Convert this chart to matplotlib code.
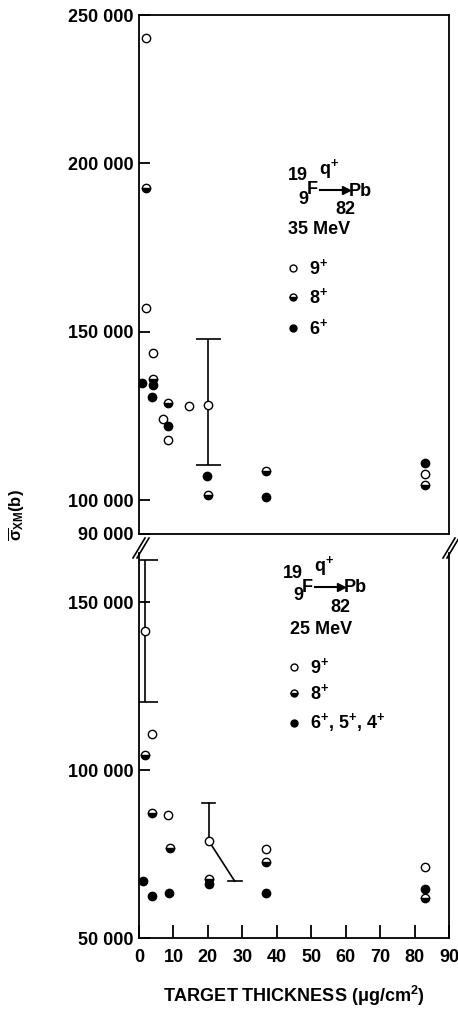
import numpy as np
import matplotlib
matplotlib.use('Agg')
import matplotlib.pyplot as plt
from matplotlib.lines import Line2D

plt.rcParams['font.family'] = ['Liberation Sans', 'DejaVu Sans']
plt.rcParams['font.weight'] = 'bold'
plt.rcParams['axes.labelweight'] = 'bold'
plt.rcParams['mathtext.fontset'] = 'custom'
plt.rcParams['mathtext.rm'] = 'Liberation Sans:bold'
plt.rcParams['mathtext.bf'] = 'Liberation Sans:bold'
plt.rcParams['mathtext.it'] = 'Liberation Sans:bold'

# ---- 35 MeV (upper panel) ----
x35_q9 = [2, 2, 4, 7, 8.5, 14.5, 20, 83]
y35_q9 = [237000, 157000, 143800, 124200, 117800, 127900, 128200, 107900]
x35_q8 = [2, 4, 8.5, 20, 37, 83]
y35_q8 = [192600, 136000, 128900, 101500, 108600, 104500]
x35_q6 = [0.8, 4, 3.8, 8.3, 19.6, 37, 83]
y35_q6 = [134800, 134200, 130700, 122000, 107100, 100900, 111100]
err35_x = 20
err35_y = 128200
err35_lo = 110400
err35_hi = 147700

# ---- 25 MeV (lower panel) ----
x25_q9 = [1.7, 3.9, 8.5, 20.2, 37, 83]
y25_q9 = [141500, 110700, 86500, 79000, 76500, 71000]
x25_q8 = [1.7, 3.9, 9, 20.2, 37, 83]
y25_q8 = [104500, 87100, 76900, 67700, 72500, 62000]
x25_q6 = [1.3, 3.9, 8.8, 20.2, 37, 83]
y25_q6 = [66900, 62400, 63400, 66000, 63500, 64500]
err25a_x, err25a_y, err25a_lo, err25a_hi = 1.7, 141500, 120100, 162400
err25b_x, err25b_y, err25b_hi = 20.2, 79000, 90200
err25b_tail_x, err25b_tail_y = 27.8, 66900   # lower bar drawn slanted in the original

xticks = [0, 10, 20, 30, 40, 50, 60, 70, 80, 90]
top_yticks = [90000, 100000, 150000, 200000, 243900]   # frame top is labelled 250 000 in the original
top_ylabels = ['90 000', '100 000', '150 000', '200 000', '250 000']
bot_yticks = [50000, 100000, 150000]
bot_ylabels = ['50 000', '100 000', '150 000']

W, H = 458, 1010
def fx(x): return x / W
def fy(y): return 1 - y / H

fig = plt.figure(figsize=(W / 100, H / 100), dpi=100)
ax1 = fig.add_axes([fx(139), fy(534), fx(449) - fx(139), fy(15) - fy(534)])
ax2 = fig.add_axes([fx(139), fy(938), fx(449) - fx(139), fy(553) - fy(938)])

ms = 6
def markers(ax, xq9, yq9, xq8, yq8, xq6, yq6):
    ax.plot(xq9, yq9, 'o', ls='none', ms=ms, mfc='white', mec='black', mew=1, zorder=5)
    ax.plot(xq8, yq8, 'o', ls='none', ms=ms, fillstyle='bottom', mfc='black',
            mfcalt='white', mec='black', mew=1, zorder=5)
    ax.plot(xq6, yq6, 'o', ls='none', ms=ms, mfc='black', mec='black', mew=1, zorder=5)

ekw = dict(color='black', lw=1.2, zorder=3)
cap35 = 2.0    # half cap width, x units
markers(ax1, x35_q9, y35_q9, x35_q8, y35_q8, x35_q6, y35_q6)
ax1.errorbar([err35_x], [err35_y], yerr=[[err35_y - err35_lo], [err35_hi - err35_y]],
             fmt='none', ecolor='black', elinewidth=1.2, capsize=9, capthick=1.2, zorder=3)

markers(ax2, x25_q9, y25_q9, x25_q8, y25_q8, x25_q6, y25_q6)
ax2.errorbar([err25a_x], [err25a_y], yerr=[[err25a_y - err25a_lo], [err25a_hi - err25a_y]],
             fmt='none', ecolor='black', elinewidth=1.2, capsize=9, capthick=1.2, zorder=3)
# upper half of the bar at 20 ug/cm2, lower half drawn as a slanted line
ax2.plot([err25b_x, err25b_x], [err25b_y, err25b_hi], **ekw)
ax2.plot([err25b_x - cap35, err25b_x + cap35], [err25b_hi, err25b_hi], **ekw)
ax2.plot([err25b_x, err25b_tail_x], [err25b_y, err25b_tail_y], **ekw)
ax2.plot([err25b_tail_x - 2.1, err25b_tail_x + 2.1], [err25b_tail_y, err25b_tail_y], **ekw)

for ax in (ax1, ax2):
    ax.set_xlim(0, 90)
    for s in ax.spines.values():
        s.set_linewidth(1.3)
    ax.tick_params(axis='y', direction='in', length=8, width=1.3, labelsize=13, pad=4,
                   right=False)
    ax.tick_params(axis='x', direction='in', length=9.5, width=1.3, labelsize=13, pad=8,
                   top=False)

ax1.set_ylim(90000, 243900)
ax1.set_yticks(top_yticks)
ax1.set_yticklabels(top_ylabels)
ax1.set_xticks([])

ax2.set_ylim(50000, 164600)
ax2.set_yticks(bot_yticks)
ax2.set_yticklabels(bot_ylabels)
ax2.set_xticks(xticks)
ax2.spines['top'].set_visible(False)
ax2.set_xlabel(r'TARGET THICKNESS ($\mu$g/cm$^{2}$)', fontsize=13, fontweight='bold',
               labelpad=13)

fig.text(fx(17), fy(515), r'$\overline{\sigma}_{\mathbf{XM}}$(b)', rotation=90,
         ha='center', va='center', fontsize=12)

# axis break marks
for x0 in (139, 449):
    for off in (0, 4):
        fig.add_artist(Line2D([fx(x0 - 6 + off), fx(x0 + 6 + off)],
                              [fy(558), fy(538)], color='black', lw=1.2))

# reaction labels and key
def reaction(x9, y9, energy, xe, ye, xm, ys, labels):
    fs = 13
    fig.text(fx(x9 - 5), fy(y9 - 23), '19', fontsize=fs, ha='center', va='center')
    fig.text(fx(x9 + 26), fy(y9 - 30), r'q$^{+}$', fontsize=fs, ha='center', va='center')
    fig.text(fx(x9), fy(y9), '9', fontsize=fs, ha='center', va='center')
    fig.text(fx(x9 + 9), fy(y9 - 9), 'F', fontsize=fs, ha='center', va='center')
    fig.add_artist(Line2D([fx(x9 + 17), fx(x9 + 38)], [fy(y9 - 9), fy(y9 - 9)],
                          color='black', lw=1.5))
    fig.add_artist(Line2D([fx(x9 + 43)], [fy(y9 - 9)], marker='>', ms=6,
                          color='black'))
    fig.text(fx(x9 + 57), fy(y9 - 8), 'Pb', fontsize=fs, ha='center', va='center')
    fig.text(fx(x9 + 42), fy(y9 + 11), '82', fontsize=fs, ha='center', va='center')
    fig.text(fx(xe), fy(ye), energy, fontsize=fs, ha='left', va='center')
    styles = [dict(mfc='white'), dict(fillstyle='bottom', mfc='black', mfcalt='white'),
              dict(mfc='black')]
    for y, st, lab in zip(ys, styles, labels):
        fig.add_artist(Line2D([fx(xm)], [fy(y)], marker='o', ms=5, mec='black', mew=1,
                              ls='none', **st))
        fig.text(fx(xm + 16), fy(y), lab, fontsize=fs, ha='left', va='center')

reaction(303, 199, '35 MeV', 288, 229, 293, [268, 297, 328],
         [r'9$^{+}$', r'8$^{+}$', r'6$^{+}$'])
reaction(298, 596, '25 MeV', 290, 629, 294, [667, 693, 723],
         [r'9$^{+}$', r'8$^{+}$', r'6$^{+}$, 5$^{+}$, 4$^{+}$'])

fig.savefig('out.png', dpi=100)
